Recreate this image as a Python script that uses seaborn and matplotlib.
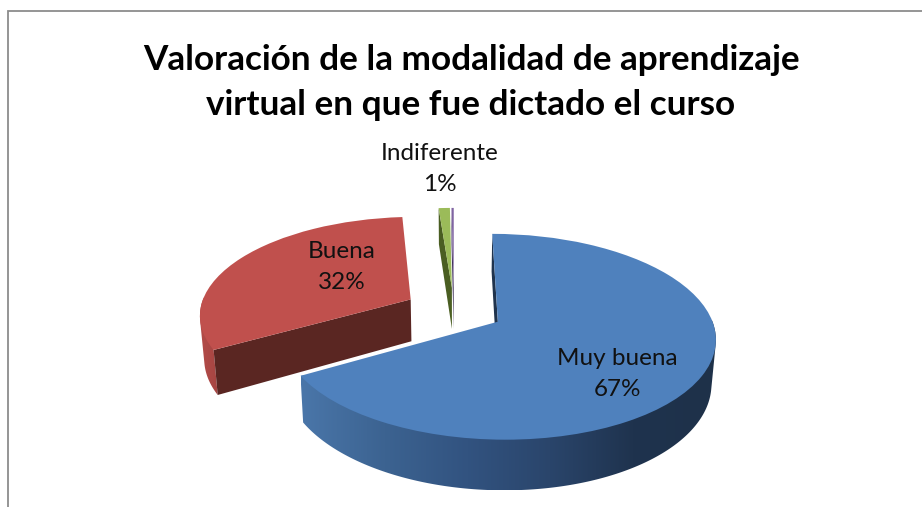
import numpy as np
import matplotlib
matplotlib.use('Agg')
import matplotlib.pyplot as plt
from matplotlib.patches import Polygon
from matplotlib.transforms import Transform
import seaborn as sns

# chart values
categories = ['Muy buena', 'Buena', 'Indiferente', '']
values = [66.7, 32.1, 1.0, 0.2]
title = 'Valoración de la modalidad de aprendizaje\nvirtual en que fue dictado el curso'

top_colors = ['#4f81bd', '#c0504d', '#9bbb59', '#8064a2']
cut_colors = ['#1f334d', '#5a2622', '#4a5e22', '#40325a']
side_stops = [['#4a76a9', '#3c6391', '#325380', '#2a456b', '#1f334e', '#1e3149'],
              ['#b34c49', '#a64542'],
              ['#4a5e22', '#4a5e22'],
              ['#40325a', '#40325a']]
label_pos = [(617, 374), (342, 267), (440, 169), None]

# look of the tilted pie, in pixels of the picture
ox, oy = 454, 310
rx, ry = 211, 97.3
persp = 0.144
depth = 42.5
shrink = 0.017
explode = 0.236


def project(u, v, z=0):
    w = 1 + persp * v
    return ox + rx * u / w * (1 - shrink * z), oy + (depth * z - ry * v) / w


class TiltTransform(Transform):
    input_dims = 2
    output_dims = 2
    is_separable = False

    def transform_non_affine(self, values):
        x, y = project(values[:, 0], values[:, 1])
        return np.column_stack([x, y])


def hull(points):
    # convex hull, so the side joins the top rim with no notch
    pts = sorted(set(points))

    def half(seq):
        out = []
        for p in seq:
            while len(out) > 1 and ((out[-1][0] - out[-2][0]) * (p[1] - out[-2][1])
                                    - (out[-1][1] - out[-2][1]) * (p[0] - out[-2][0])) <= 0:
                out.pop()
            out.append(p)
        return out[:-1]

    return half(pts) + half(pts[::-1])


sns.set_theme(style='white')
plt.rcParams['font.family'] = ['Lato', 'DejaVu Sans']

fig = plt.figure(figsize=(9.22, 5.07), dpi=100)
ax = fig.add_axes([0, 0, 1, 1])

wedges, _ = ax.pie(values, explode=[explode] * len(values), startangle=90,
                   counterclock=False, colors=top_colors)

tilt = TiltTransform() + ax.transData
for wedge in wedges:
    wedge.set_transform(tilt)
    wedge.set_zorder(3)
    wedge.set_linewidth(0)

ax.set_aspect('auto')
ax.axis('off')


def wall(cu, cv, ang):
    # one outer wall strip, from the top face down to the bottom rim
    a = np.radians(ang)
    u, v = cu + np.cos(a), cv + np.sin(a)
    return project(u, v, 0), project(u, v, 1)


for i, wedge in enumerate(wedges):
    cu, cv = wedge.center
    # the rounded side, only where it faces the viewer (lower half)
    angs = np.linspace(wedge.theta1, wedge.theta2, 400)
    angs = angs[np.sin(np.radians(angs)) < 0.02]
    if len(angs) > 1:
        rims = [wall(cu, cv, a) for a in angs]
        outline = hull([(float(p[0]), float(p[1])) for r in rims for p in r])
        xs = [p[0] for p in outline]
        ys = [p[1] for p in outline]
        pal = sns.blend_palette(side_stops[i], n_colors=256)
        img = ax.imshow(np.array(pal)[np.newaxis, :, :], aspect='auto', zorder=1,
                        extent=(min(xs), max(xs), max(ys), min(ys)),
                        interpolation='bilinear')
        img.set_clip_path(Polygon(outline, transform=ax.transData))
    # the flat cut faces, only those turned towards the viewer
    for ang, turn in ((wedge.theta1, -90), (wedge.theta2, 90)):
        if np.sin(np.radians(ang + turn)) > 0.01:
            continue
        (t0, b0) = wall(cu, cv, ang)
        apex_t, apex_b = project(cu, cv, 0), project(cu, cv, 1)
        ax.fill([t0[0], apex_t[0], apex_b[0], b0[0]],
                [t0[1], apex_t[1], apex_b[1], b0[1]],
                color=cut_colors[i], lw=0, zorder=2)

ax.set_xlim(0, 922)
ax.set_ylim(507, 0)

for name, val, pos in zip(categories, values, label_pos):
    if pos is None:
        continue
    ax.text(pos[0], pos[1], f'{name}\n{val:.0f}%', ha='center', va='center',
            fontsize=17.5, color='#111111', linespacing=1.55, zorder=5)

ax.text(471, 82.5, title, ha='center', va='center', fontsize=25.3,
        fontweight='bold', color='#000000', linespacing=1.52)

# chart area border, cut off by the picture edge
ax.plot([7.5, 7.5, 922], [507, 10.5, 10.5], color='#8c8c8c', lw=1.3, zorder=6,
        solid_joinstyle='miter')

fig.savefig('out.png', dpi=100, facecolor='white')
